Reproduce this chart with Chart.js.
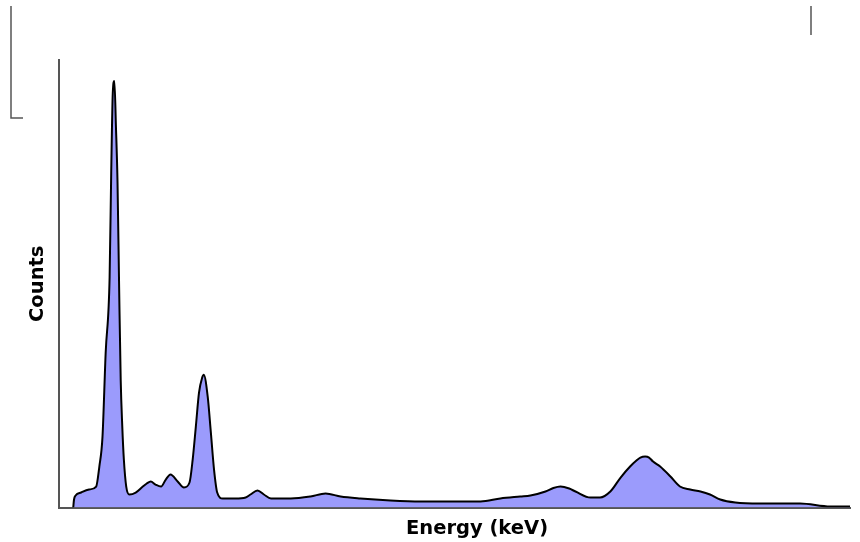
<!DOCTYPE html>
<html>
<head>
<meta charset="utf-8">
<script src="https://cdn.jsdelivr.net/npm/chart.js@4"></script>
<style>
  html, body { margin: 0; padding: 0; background: #fff; }
  #wrap { width: 860px; height: 542px; }
</style>
</head>
<body>
<div id="wrap"><canvas id="myChart" width="860" height="542"></canvas></div>
<script>
// energy (keV) and counts
const energy = [0.18, 0.19, 0.21, 0.28, 0.38, 0.47, 0.51, 0.55, 0.59, 0.64, 0.66, 0.68, 0.70, 0.72, 0.74, 0.76, 0.78, 0.80, 0.82, 0.85, 0.89,
  0.97, 1.06, 1.11, 1.16, 1.22, 1.29, 1.35, 1.41, 1.50, 1.58, 1.65, 1.69, 1.73, 1.77, 1.81, 1.83, 1.88, 1.92, 1.96, 2.00, 2.07,
  2.23, 2.36, 2.42, 2.51, 2.59, 2.68, 2.93, 3.18, 3.37, 3.56, 3.81, 4.19, 4.57, 4.95, 5.33, 5.58, 5.83, 5.96,
  6.15, 6.25, 6.34, 6.45, 6.53, 6.72, 6.84, 6.97, 7.10, 7.22, 7.30, 7.35, 7.41, 7.46, 7.51, 7.60, 7.73, 7.85, 7.98, 8.11, 8.23, 8.36,
  8.55, 8.86, 9.37, 9.75, 10.00];
const counts = [0, 80, 120, 150, 180, 210, 410, 710, 1550, 2310, 3350, 4150, 4270, 3810, 3250, 2210, 1280, 810, 480, 210, 130,
  150, 210, 240, 260, 230, 210, 280, 330, 260, 200, 250, 480, 810, 1150, 1300, 1330, 1110, 750, 380, 150, 90,
  90, 100, 130, 170, 130, 90, 90, 110, 140, 110, 90, 70, 60, 60, 60, 90, 110, 120,
  160, 195, 210, 190, 160, 100, 100, 160, 300, 410, 470, 500, 510, 500, 460, 410, 310, 210, 180, 160, 130, 80,
  50, 40, 40, 10, 10];
const xLabel = 'Energy (keV)';
const yLabel = 'Counts';

const pts = energy.map((e, i) => ({ x: e, y: counts[i] }));

const decor = {
  id: 'decor',
  afterDraw(chart) {
    const c = chart.ctx;
    const a = chart.chartArea;
    c.save();
    // stray frame lines from the original screenshot
    c.strokeStyle = '#555';
    c.lineWidth = 1.5;
    c.beginPath();
    c.moveTo(11, 6); c.lineTo(11, 118); c.lineTo(23, 118);
    c.moveTo(811, 6); c.lineTo(811, 35);
    c.stroke();
    // axis titles
    c.fillStyle = '#000';
    c.font = 'bold 19.5px "DejaVu Sans"';
    c.textAlign = 'center';
    c.textBaseline = 'alphabetic';
    c.fillText(xLabel, 477, 534);
    c.translate(43, (a.top + a.bottom) / 2);
    c.rotate(-Math.PI / 2);
    c.fillText(yLabel, 0, 0);
    c.restore();
  }
};

const ctx = document.getElementById('myChart').getContext('2d');
const chart = new Chart(ctx, {
  type: 'line',
  data: {
    datasets: [{
      label: yLabel,
      data: pts,
      fill: 'origin',
      backgroundColor: 'rgb(155, 155, 252)',
      borderColor: '#000',
      borderWidth: 2,
      pointRadius: 0,
      cubicInterpolationMode: 'monotone'
    }]
  },
  options: {
    responsive: false,
    animation: false,
    layout: { padding: { left: 59, top: 60, right: 10, bottom: 34.5 } },
    plugins: { legend: { display: false }, tooltip: { enabled: false } },
    scales: {
      x: {
        type: 'linear', min: 0, max: 10,
        grid: { display: false },
        ticks: { display: false },
        border: { display: true, color: '#555', width: 2 },
        afterFit(s) { s.height = 0; }
      },
      y: {
        min: 0, max: 4480,
        grid: { display: false },
        ticks: { display: false },
        border: { display: true, color: '#555', width: 2 },
        afterFit(s) { s.width = 0; }
      }
    }
  },
  plugins: [decor]
});
</script>
</body>
</html>
